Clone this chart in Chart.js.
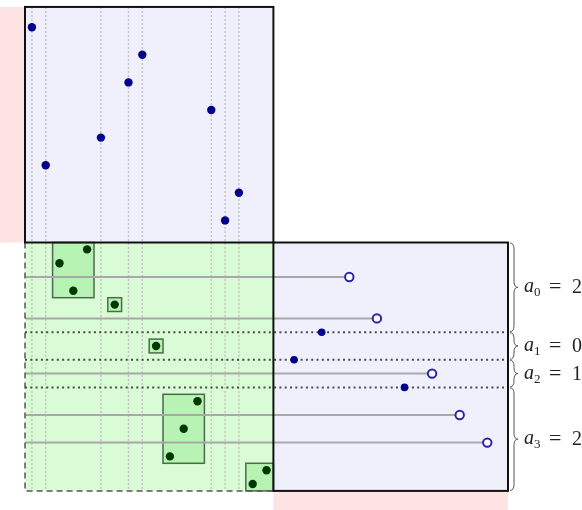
<!DOCTYPE html>
<html>
<head>
<meta charset="utf-8">
<script src="https://cdn.jsdelivr.net/npm/chart.js@4.4.1/dist/chart.umd.min.js"></script>
<style>
  html, body { margin: 0; padding: 0; background: #fff; }
  canvas { display: block; }
</style>
</head>
<body>
<canvas id="diagram" width="582" height="510"></canvas>
<script>
// grid units, y grows downward, origin = top-left corner of the green block

// columns of the points in the upper panel (also the vertical dotted guides)
const columns = [0.5, 1.5, 5.5, 7.5, 8.5, 13.5, 14.5, 15.5];
const topRows = [-15.6, -5.6, -7.6, -11.6, -13.6, -9.6, -1.6, -3.6];

// points inside the green boxes
const greenX = [4.5, 2.5, 3.5, 6.5, 9.5, 12.5, 11.5, 10.5, 17.5, 16.5];
const greenY = [0.5, 1.5, 3.5, 4.5, 7.5, 11.5, 13.5, 15.5, 16.5, 17.5];

// green boxes
const boxX0 = [2, 6, 9, 10, 16];
const boxX1 = [5, 7, 10, 13, 18];
const boxY0 = [0, 4, 7, 11, 16];
const boxY1 = [4, 5, 8, 16, 18];

// rows ending with an open circle (solid grey line)
const solidRows = [2.5, 5.5, 9.5, 12.5, 14.5];
const circleX = [23.5, 25.5, 29.5, 31.5, 33.5];

// dotted rows carrying a filled dot
const dottedRows = [6.5, 8.5, 10.5];
const dotX = [21.5, 19.5, 27.5];

// braces on the right
const braceFrom = [0, 6.5, 8.5, 10.5];
const braceTo = [6.5, 8.5, 10.5, 18];
const braceSub = ['0', '1', '2', '3'];
const braceVal = ['2', '0', '1', '2'];

const topEdge = -17.07;
const unit = 13.8;

const bgPlugin = {
    id: 'panels',
    beforeDatasetsDraw(chart) {
        const { ctx, scales: { x, y } } = chart;
        const X = v => x.getPixelForValue(v);
        const Y = v => y.getPixelForValue(v);
        const fillRect = (x0, y0, x1, y1, color) => {
            ctx.fillStyle = color;
            ctx.fillRect(X(x0), Y(y0), X(x1) - X(x0), Y(y1) - Y(y0));
        };
        ctx.save();
        // pink strips
        fillRect(x.min, topEdge, 0, 0, '#fde3e3');
        fillRect(18, 18, 35, y.max, '#fde3e3');
        // lavender panels
        fillRect(0, topEdge, 18, 0, '#f0f0fc');
        fillRect(18, 0, 35, 18, '#f0f0fc');
        // green block
        fillRect(0, 0, 18, 18, '#d9fbd5');
        // boxes
        boxX0.forEach((b, i) => {
            fillRect(b, boxY0[i], boxX1[i], boxY1[i], '#b7f3b2');
            ctx.strokeStyle = '#4d6a4d';
            ctx.lineWidth = 1.5;
            ctx.strokeRect(X(b), Y(boxY0[i]), X(boxX1[i]) - X(b), Y(boxY1[i]) - Y(boxY0[i]));
        });
        ctx.restore();
    },
    afterDatasetsDraw(chart) {
        const { ctx, scales: { x, y } } = chart;
        const X = v => x.getPixelForValue(v);
        const Y = v => y.getPixelForValue(v);
        ctx.save();
        // dashed outline of the green block (left + bottom)
        ctx.strokeStyle = '#555';
        ctx.lineWidth = 1.5;
        ctx.setLineDash([6, 4]);
        ctx.beginPath();
        ctx.moveTo(X(0), Y(0));
        ctx.lineTo(X(0), Y(18));
        ctx.lineTo(X(18), Y(18));
        ctx.stroke();
        ctx.setLineDash([]);
        // black panel borders
        ctx.strokeStyle = '#111';
        ctx.lineWidth = 2;
        ctx.strokeRect(X(0), Y(topEdge), X(18) - X(0), Y(0) - Y(topEdge));
        ctx.strokeRect(X(18), Y(0), X(35) - X(18), Y(18) - Y(0));

        // braces + labels
        const bx = X(35) + 2;
        const w = 8;
        ctx.strokeStyle = '#555';
        ctx.lineWidth = 1;
        braceFrom.forEach((f, i) => {
            const y0 = Y(f) + 0.5, y1 = Y(braceTo[i]) - 0.5, ym = (y0 + y1) / 2;
            const r = Math.min(6, (y1 - y0) / 4);
            ctx.beginPath();
            ctx.moveTo(bx, y0);
            ctx.quadraticCurveTo(bx + w / 2, y0, bx + w / 2, y0 + r);
            ctx.lineTo(bx + w / 2, ym - r);
            ctx.quadraticCurveTo(bx + w / 2, ym, bx + w, ym);
            ctx.quadraticCurveTo(bx + w / 2, ym, bx + w / 2, ym + r);
            ctx.lineTo(bx + w / 2, y1 - r);
            ctx.quadraticCurveTo(bx + w / 2, y1, bx, y1);
            ctx.stroke();

            ctx.fillStyle = '#222';
            ctx.textBaseline = 'alphabetic';
            ctx.font = 'italic 20px "Liberation Serif"';
            ctx.fillText('a', bx + 14, ym + 5);
            ctx.font = '13px "Liberation Serif"';
            ctx.fillText(braceSub[i], bx + 24, ym + 9);
            ctx.font = '22px "Liberation Serif"';
            ctx.fillText('=', bx + 39, ym + 6);
            ctx.font = '20px "Liberation Serif"';
            ctx.fillText(braceVal[i], bx + 62, ym + 6);
        });
        ctx.restore();
    }
};

const datasets = [];

// marks first (lower order is drawn on top)
datasets.push({
    data: columns.map((c, i) => ({ x: c, y: topRows[i] })),
    order: 0, pointRadius: 4.2, backgroundColor: '#00008b', borderColor: '#00008b', borderWidth: 0
});
datasets.push({
    data: greenX.map((g, i) => ({ x: g, y: greenY[i] })),
    order: 0, pointRadius: 4.2, backgroundColor: '#003800', borderColor: '#003800', borderWidth: 0
});
datasets.push({
    data: dotX.map((d, i) => ({ x: d, y: dottedRows[i] })),
    order: 0, pointRadius: 3.8, backgroundColor: '#00008b', borderColor: '#00008b', borderWidth: 0
});
datasets.push({
    data: circleX.map((c, i) => ({ x: c, y: solidRows[i] })),
    order: 0, pointRadius: 4.2, backgroundColor: '#ffffff', borderColor: '#2626a8', borderWidth: 2
});

// solid grey rows
solidRows.forEach((r, i) => {
    datasets.push({
        data: [{ x: 0, y: r }, { x: circleX[i], y: r }],
        order: 1, showLine: true, borderColor: '#a8a8a8', borderWidth: 2, pointRadius: 0
    });
});

// dotted rows
dottedRows.forEach(r => {
    datasets.push({
        data: [{ x: 0, y: r }, { x: 35, y: r }],
        order: 1, showLine: true, borderColor: '#4a4a4a', borderWidth: 2,
        borderDash: [2, 3.3], pointRadius: 0
    });
});

// vertical dotted guides
columns.forEach(c => {
    datasets.push({
        data: [{ x: c, y: topEdge }, { x: c, y: 18 }],
        order: 2, showLine: true, borderColor: '#c4c4c4', borderWidth: 1.5,
        borderDash: [2, 2], pointRadius: 0
    });
});

new Chart(document.getElementById('diagram'), {
    type: 'scatter',
    data: { datasets },
    options: {
        responsive: false,
        animation: false,
        devicePixelRatio: 1,
        layout: { padding: 0, autoPadding: false },
        plugins: { legend: { display: false }, tooltip: { enabled: false } },
        scales: {
            x: { type: 'linear', display: false, min: -25 / unit, max: 557 / unit },
            y: { type: 'linear', display: false, reverse: true, min: -242.5 / unit, max: 267.5 / unit }
        }
    },
    plugins: [bgPlugin]
});
</script>
</body>
</html>
